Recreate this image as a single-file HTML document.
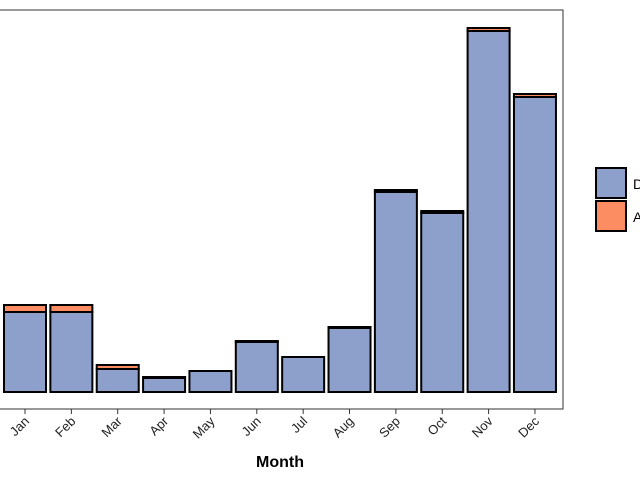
<!DOCTYPE html>
<html><head><meta charset="utf-8"><style>
body{margin:0;background:#fff;}
svg{display:block;font-family:"Liberation Sans",sans-serif;}
</style></head><body>
<svg id="c" width="640" height="480">
<rect x="-10" y="10" width="573" height="399" fill="#fff" stroke="#333" stroke-width="1"/>
<g id="bars"></g>
<g id="xt"></g>
<text x="280" y="467" text-anchor="middle" font-size="16" font-weight="bold">Month</text>
<g>
<rect x="596" y="168" width="30" height="30" fill="#8DA0CB" stroke="#000" stroke-width="2"/>
<text x="633" y="189" font-size="14">Domestic</text>
<rect x="596" y="201" width="30" height="30" fill="#FC8D62" stroke="#000" stroke-width="2"/>
<text x="633" y="222" font-size="14">Abroad</text>
</g>
</svg>
<script>
const months=["Jan","Feb","Mar","Apr","May","Jun","Jul","Aug","Sep","Oct","Nov","Dec"];
const seriesA=[80,80,23,14,21,50,35,64,200,179,361,295];
const seriesB=[7,7,4,1,0,1,0,1,2,2,3,3];
const ns="http://www.w3.org/2000/svg";
const base=392, pxPerUnit=1;
const y=v=>base-v*pxPerUnit;
const xc=i=>25+i*46.36;
const bw=42;
const bars=document.getElementById('bars'), xt=document.getElementById('xt');
function rect(x,yy,w,h,fill,name){
 const r=document.createElementNS(ns,'rect');
 r.setAttribute('x',x);r.setAttribute('y',yy);r.setAttribute('width',w);r.setAttribute('height',Math.max(h,0));
 r.setAttribute('fill',fill);r.setAttribute('stroke','#000');r.setAttribute('stroke-width','2');
 
 
 bars.appendChild(r);
}
months.forEach((m,i)=>{
 const a=seriesA[i], b=seriesB[i];
 if(b>0) rect(xc(i)-bw/2,y(a+b),bw,y(a)-y(a+b),'#FC8D62','bar-b-'+m.toLowerCase());
 rect(xc(i)-bw/2,y(a),bw,base-y(a),'#8DA0CB','bar-a-'+m.toLowerCase());
 const t=document.createElementNS(ns,'line');
 t.setAttribute('x1',xc(i));t.setAttribute('x2',xc(i));t.setAttribute('y1',409);t.setAttribute('y2',414);
 t.setAttribute('stroke','#333');
 
 
 xt.appendChild(t);
 const tx=document.createElementNS(ns,'text');
 tx.setAttribute('x',xc(i)+5);tx.setAttribute('y',422);
 tx.setAttribute('text-anchor','end');tx.setAttribute('font-size','13');tx.setAttribute('fill','#222');
 tx.setAttribute('transform','rotate(-45 '+(xc(i)+5)+' 422)');
 tx.textContent=m;
 
 
 xt.appendChild(tx);
});
</script>
</body></html>
